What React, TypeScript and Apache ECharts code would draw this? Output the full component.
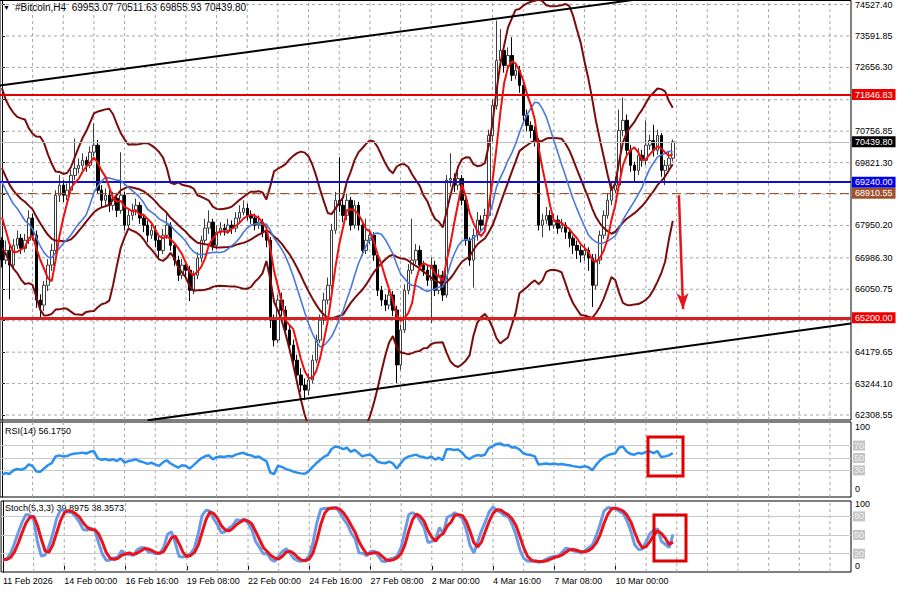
import React, { useEffect, useRef } from 'react';
import * as echarts from 'echarts';

// ---- hidden history before the first visible bar (only warms up the indicators) ----
const preCloses = [72270, 71670, 70780, 70190, 69590, 69150, 70480, 69890, 70190, 69440, 69740, 70040, 69590, 69890, 69210, 69150, 68850, 68550, 67510];
const preHighs = [72500, 72350, 71800, 70900, 70300, 69700, 70650, 70600, 70400, 70300, 69900, 70250, 70150, 70050, 69950, 69400, 69250, 68950, 68650];
const preLows = [71900, 71450, 70550, 69950, 69400, 68950, 69050, 69700, 69800, 69250, 69350, 69650, 69450, 69500, 69050, 68950, 68700, 68300, 67300];

// ---- visible H4 bars (11 Feb 08:00 .. 12 Mar 12:00) ----
const closes = [
  66920, 67210, 66770, 67360, 67570, 67270, 67510, 68170, 67660, 65730,
  65580, 66170, 66770, 67210, 68850, 69150, 68850, 69000, 69440, 69650,
  69740, 69890, 69740, 70130, 70340, 69000, 68700, 68850, 68550, 68760,
  68400, 68850, 67960, 68250, 68400, 68550, 68170, 67960, 67660, 67810,
  67510, 67210, 67660, 67960, 67360, 66920, 66470, 66770, 66620, 66020,
  66470, 66980, 67510, 67870, 68050, 67360, 67750, 67870, 67810, 67960,
  67870, 68170, 68340, 68460, 68250, 68170, 67960, 68050, 67750, 67510,
  65130, 64540, 65730, 65430, 64840, 64390, 63940, 63500, 63200, 63050,
  63350, 63940, 64540, 65130, 65730, 66170, 67810, 68700, 68550, 68250,
  68700, 67960, 68550, 67960, 67210, 67510, 67660, 67070, 66020, 65730,
  65580, 65880, 65430, 63800, 64840, 66020, 66620, 66920, 67210, 66770,
  66620, 66320, 66770, 66020, 66470, 65880, 69300, 69350, 69150, 69350,
  68700, 67510, 66920, 67660, 68110, 67960, 68250, 70630, 71520, 72860,
  73160, 72710, 73010, 72420, 72570, 72120, 71230, 70930, 70780, 70480,
  67960, 68110, 68250, 67960, 68110, 67870, 67960, 67750, 67570, 67360,
  67210, 67070, 67210, 66980, 66170, 66920, 67660, 68250, 68700, 69000,
  69150, 70780, 71080, 70190, 69740, 69590, 70040, 69890, 70340, 70480,
  70190, 70630, 69590, 69740, 69953.07, 70439.8,
];
const highs = [
  67600, 67500, 67350, 67550, 67800, 67700, 67700, 68400, 68300, 67800,
  65900, 66300, 66950, 67400, 69000, 69450, 69300, 69200, 69600, 70540,
  69950, 70100, 70000, 70300, 70990, 70500, 69150, 69050, 69000, 68950,
  68900, 70130, 68950, 68450, 68600, 68750, 68650, 68300, 68100, 68000,
  67950, 67650, 67850, 68300, 68050, 67450, 67050, 66950, 66900, 66750,
  66600, 67150, 67650, 68150, 68400, 68150, 67950, 68050, 68000, 68150,
  68100, 68350, 68550, 68700, 68600, 68400, 68300, 68250, 68150, 67900,
  67600, 65300, 65900, 65950, 65550, 65000, 64550, 64100, 63700, 63400,
  63550, 64100, 64700, 65300, 65950, 66400, 68000, 68950, 69980, 68750,
  68900, 68800, 68700, 68650, 68050, 68150, 67850, 67750, 67150, 66150,
  65900, 66050, 66000, 65550, 65000, 66200, 66800, 68150, 67400, 67350,
  66900, 66750, 67000, 66900, 66650, 66600, 69450, 70100, 69500, 69550,
  69450, 68800, 67600, 67850, 68350, 68250, 68450, 70800, 71700, 74050,
  73800, 73300, 73250, 73550, 72800, 72700, 72250, 71400, 71050, 70900,
  70550, 68300, 68500, 68400, 68300, 68250, 68150, 68050, 67850, 67650,
  67500, 67350, 67400, 67300, 67100, 67100, 67800, 68400, 68900, 69250,
  69400, 71400, 71760, 71250, 70350, 69850, 70250, 70200, 71080, 70650,
  70950, 70800, 70700, 69900, 70150, 70511.63,
];
const lows = [
  66700, 66800, 65750, 66650, 67250, 67100, 67150, 67400, 67500, 65500,
  65150, 65400, 66000, 66600, 67100, 68650, 68650, 68700, 68900, 69300,
  69500, 69600, 69550, 69650, 70000, 68900, 68500, 68550, 68350, 68400,
  68200, 68300, 67800, 67850, 68100, 68250, 68000, 67750, 67450, 67550,
  67300, 66950, 67100, 67550, 67200, 66750, 66300, 66350, 66400, 65700,
  65900, 66350, 66850, 67400, 67700, 67200, 67250, 67650, 67650, 67700,
  67700, 67750, 68050, 68250, 68100, 68000, 67800, 67850, 67600, 67300,
  64900, 64350, 64450, 65250, 64650, 64200, 63750, 63300, 63000, 62750,
  62900, 63250, 63850, 64450, 65000, 65600, 66050, 67700, 68350, 68050,
  68100, 67800, 67850, 67800, 67050, 67100, 67400, 66900, 65850, 65550,
  65400, 65450, 65250, 63260, 63650, 64750, 65900, 66500, 66800, 66600,
  66450, 66150, 65050, 65850, 65900, 65700, 65800, 69100, 68950, 69000,
  68550, 67350, 66750, 66100, 67500, 67750, 67800, 68150, 70450, 71400,
  72700, 72500, 72550, 72250, 72300, 71900, 71050, 70750, 70550, 70300,
  67800, 67600, 68000, 67800, 67850, 67700, 67750, 67550, 67300, 67100,
  66950, 66850, 66900, 66600, 65520, 66050, 66800, 67550, 68150, 68550,
  68900, 69050, 70600, 70000, 69550, 69250, 69450, 69700, 69750, 70200,
  70000, 70050, 69400, 69150, 69600, 69855.93,
];

// ---- axis ticks / labels ----
const priceTicks = [62308.55, 63244.1, 64179.65, 65115.2, 66050.75, 66986.3, 67950.2, 68885.75, 69821.3, 70756.85, 71692.4, 72656.3, 73591.85, 74527.4];
// tick labels that are not covered by an object's price box
const priceTickLabels = [62308.55, 63244.1, 64179.65, 66050.75, 66986.3, 67950.2, 69821.3, 70756.85, 72656.3, 73591.85, 74527.4];
const xTickLabels = ['11 Feb 2026', '14 Feb 00:00', '16 Feb 16:00', '19 Feb 08:00', '22 Feb 00:00', '24 Feb 16:00', '27 Feb 08:00', '2 Mar 00:00', '4 Mar 16:00', '7 Mar 08:00', '10 Mar 00:00'];

// ---- drawn objects ----
const resistanceLevel = 71846.83;
const pivotLevel = 69240.0;
const dashedLevel = 68910.55;
const supportLevel = 65200.0;
const upperChannel = [[-0.5, 72113], [165, 74667]];
const lowerChannel = [[38, 62150], [221.5, 65034]];
const arrowFrom = [176.6, 68850];
const arrowTo = [177.7, 65460];
const rsiLevels = [70, 50, 30];
const stochLevels = [80, 50, 20];

const SLOTS = 222;
const TICK_STEP = 16;
const GRID_STEP = 8;

const PRICE_MIN = 62160;
const PRICE_MAX = 74646;
const RSI_MIN = -13;
const RSI_MAX = 108;
const ST_MIN = -9.5;
const ST_MAX = 104.8;

function buildOption() {
  const P = preCloses.length;
  const N = closes.length;
  const allC = [...preCloses, ...closes];
  const allH = [...preHighs, ...highs];
  const allL = [...preLows, ...lows];
  const opens = closes.map((_, i) => (i === 0 ? preCloses[P - 1] : closes[i - 1]));

  const sma = (a: number[], n: number, k: number) => {
    let s = 0;
    for (let m = k - n + 1; m <= k; m++) s += a[m];
    return s / n;
  };
  const ma5: number[] = [];
  const ma14: number[] = [];
  const bbMid: number[] = [];
  const bbUp: number[] = [];
  const bbLo: number[] = [];
  for (let j = 0; j < N; j++) {
    const k = j + P;
    ma5.push(sma(allC, 5, k));
    ma14.push(sma(allC, 14, k));
    const m = sma(allC, 20, k);
    let v = 0;
    for (let q = k - 19; q <= k; q++) v += (allC[q] - m) ** 2;
    const sd = Math.sqrt(v / 20);
    bbMid.push(m);
    bbUp.push(m + 2 * sd);
    bbLo.push(m - 2 * sd);
  }

  // RSI(14), Wilder
  const rsiAll: number[] = [];
  let ag = 0;
  let al = 0;
  for (let k = 1; k < allC.length; k++) {
    const d = allC[k] - allC[k - 1];
    const g = Math.max(d, 0);
    const l = Math.max(-d, 0);
    if (k <= 14) {
      ag += g / 14;
      al += l / 14;
    } else {
      ag = (ag * 13 + g) / 14;
      al = (al * 13 + l) / 14;
    }
    rsiAll[k] = al === 0 ? 100 : 100 - 100 / (1 + ag / al);
  }
  const rsi = closes.map((_, j) => rsiAll[j + P]);

  // Stochastic(5,3,3)
  const hh: number[] = [];
  const ll: number[] = [];
  for (let k = 4; k < allC.length; k++) {
    hh[k] = Math.max(...allH.slice(k - 4, k + 1));
    ll[k] = Math.min(...allL.slice(k - 4, k + 1));
  }
  const kAll: number[] = [];
  for (let k = 6; k < allC.length; k++) {
    let num = 0;
    let den = 0;
    for (let m = k - 2; m <= k; m++) {
      num += allC[m] - ll[m];
      den += hh[m] - ll[m];
    }
    kAll[k] = den ? (100 * num) / den : 100;
  }
  const stK = closes.map((_, j) => kAll[j + P]);
  const stD = closes.map((_, j) => (kAll[j + P] + kAll[j + P - 1] + kAll[j + P - 2]) / 3);

  const cats = Array.from({ length: SLOTS }, (_, i) => String(i));
  const gridXs: number[] = [];
  for (let i = GRID_STEP; i < SLOTS; i += GRID_STEP) gridXs.push(i);

  // grid segments (broken with null points)
  const xLo = -0.5;
  const xHi = SLOTS - 0.5;
  const vSegs = (lo: number, hi: number) => {
    const out: any[] = [];
    gridXs.forEach((x) => {
      out.push([x, lo], [x, hi], [x, null]);
    });
    return out;
  };
  const hSegs = (vals: number[]) => {
    const out: any[] = [];
    vals.forEach((v) => {
      out.push([xLo, v], [xHi, v], [xHi, null]);
    });
    return out;
  };
  const gridLine = (xi: number, yi: number, data: any[]) => ({
    type: 'line',
    xAxisIndex: xi,
    yAxisIndex: yi,
    data,
    symbol: 'none',
    silent: true,
    connectNulls: false,
    z: 1,
    lineStyle: { color: '#a6a6a6', width: 1, type: [3, 3] },
  });

  const levelLabel = (text: string, bg: string, fg = '#ffffff') => ({
    show: true,
    position: 'end',
    formatter: text,
    backgroundColor: bg,
    color: fg,
    fontSize: 9,
    padding: [1, 3, 1, 3],
    distance: 1,
  });
  const grayLabel = (text: string) => ({
    show: true,
    position: 'end',
    formatter: text,
    backgroundColor: '#c4c4c4',
    color: '#f2f2f2',
    fontSize: 9,
    padding: [1, 1, 0, 1],
    distance: 2,
  });

  const tickFn = (index: number) => index % TICK_STEP === 0 && index / TICK_STEP < xTickLabels.length;
  const last = N - 1;
  const fmt = (v: number) => v.toFixed(2);
  const valueX = (gi: number) => ({ type: 'value', gridIndex: gi, min: xLo, max: xHi, show: false });

  return {
    animation: false,
    backgroundColor: '#ffffff',
    textStyle: { fontFamily: 'Liberation Sans, Arial, sans-serif' },
    grid: [
      { left: 0, top: 0, width: 851, height: 420, show: true, borderColor: '#000', borderWidth: 1 },
      { left: 0, top: 422, width: 851, height: 75, show: true, borderColor: '#000', borderWidth: 1 },
      { left: 0, top: 501, width: 851, height: 71, show: true, borderColor: '#000', borderWidth: 1 },
    ],
    xAxis: [
      { type: 'category', gridIndex: 0, data: cats, show: false },
      valueX(0),
      { type: 'category', gridIndex: 1, data: cats, show: false },
      {
        type: 'category',
        gridIndex: 2,
        data: cats,
        axisLine: { show: false },
        axisTick: { show: true, interval: tickFn, alignWithLabel: true, length: 4, lineStyle: { color: '#000' } },
        axisLabel: {
          interval: tickFn,
          formatter: (_v: string, i: number) => xTickLabels[i / TICK_STEP],
          align: 'left',
          fontSize: 9,
          color: '#000',
          margin: 4,
        },
        splitLine: { show: false },
      },
      valueX(1),
      valueX(2),
    ],
    yAxis: [
      {
        type: 'value',
        gridIndex: 0,
        position: 'right',
        min: PRICE_MIN,
        max: PRICE_MAX,
        axisLine: { show: true, lineStyle: { color: '#000' } },
        axisTick: { show: true, customValues: priceTicks, length: 3, lineStyle: { color: '#000' } },
        axisLabel: { customValues: priceTickLabels, formatter: (v: number) => v.toFixed(2), fontSize: 9, color: '#000', margin: 4 },
        splitLine: { show: false },
      },
      {
        type: 'value',
        gridIndex: 1,
        position: 'right',
        min: RSI_MIN,
        max: RSI_MAX,
        axisLine: { show: true, lineStyle: { color: '#000' } },
        axisTick: { show: false },
        axisLabel: { customValues: [0, 100], fontSize: 9, color: '#000', margin: 4 },
        splitLine: { show: false },
      },
      {
        type: 'value',
        gridIndex: 2,
        position: 'right',
        min: ST_MIN,
        max: ST_MAX,
        axisLine: { show: true, lineStyle: { color: '#000' } },
        axisTick: { show: false },
        axisLabel: { customValues: [0, 100], fontSize: 9, color: '#000', margin: 4 },
        splitLine: { show: false },
      },
    ],
    graphic: [
      { type: 'text', left: 3, top: 4, style: { text: '▼', fontSize: 7, fill: '#000' } },
      {
        type: 'text',
        left: 15,
        top: 2,
        style: {
          text: `#Bitcoin,H4  ${fmt(opens[last])} ${fmt(highs[last])} ${fmt(lows[last])} ${fmt(closes[last])}`,
          fontSize: 10,
          fill: '#000',
          fontFamily: 'Liberation Sans, Arial, sans-serif',
        },
      },
      { type: 'text', left: 5, top: 426, style: { text: 'RSI(14) 56.1750', fontSize: 9, fill: '#000', fontFamily: 'Liberation Sans, Arial, sans-serif' } },
      { type: 'text', left: 5, top: 503, style: { text: 'Stoch(5,3,3) 39.8975 38.3573', fontSize: 9, fill: '#000', fontFamily: 'Liberation Sans, Arial, sans-serif' } },
      { type: 'rect', shape: { x: 648, y: 437, width: 35, height: 39 }, style: { fill: 'none', stroke: '#e00000', lineWidth: 3 }, z: 100 },
      { type: 'rect', shape: { x: 654, y: 515, width: 32, height: 46 }, style: { fill: 'none', stroke: '#e00000', lineWidth: 3 }, z: 100 },
    ],
    series: [
      gridLine(1, 0, [...hSegs(priceTicks), ...vSegs(PRICE_MIN, PRICE_MAX)]),
      {
        type: 'line',
        xAxisIndex: 0,
        yAxisIndex: 0,
        data: [],
        z: 2,
        silent: true,
        markLine: {
          silent: true,
          symbol: ['none', 'none'],
          animation: false,
          data: [
            { yAxis: closes[last], lineStyle: { color: '#bdbdbd', width: 1, type: 'solid' }, label: levelLabel(fmt(closes[last]), '#000000') },
          ],
        },
      },
      {
        type: 'candlestick',
        xAxisIndex: 0,
        yAxisIndex: 0,
        barWidth: 3,
        z: 3,
        data: closes.map((c, i) => [opens[i], c, lows[i], highs[i]]),
        itemStyle: { color: '#ffffff', color0: '#000000', borderColor: '#3c3c3c', borderColor0: '#000000', borderWidth: 1 },
      },
      { type: 'line', xAxisIndex: 0, yAxisIndex: 0, data: bbUp, symbol: 'none', z: 4, lineStyle: { color: '#7a0c0c', width: 2 } },
      { type: 'line', xAxisIndex: 0, yAxisIndex: 0, data: bbMid, symbol: 'none', z: 4, lineStyle: { color: '#7a0c0c', width: 2 } },
      { type: 'line', xAxisIndex: 0, yAxisIndex: 0, data: bbLo, symbol: 'none', z: 4, lineStyle: { color: '#7a0c0c', width: 2 } },
      { type: 'line', xAxisIndex: 0, yAxisIndex: 0, data: ma14, symbol: 'none', z: 5, lineStyle: { color: '#4a78dc', width: 1.6 } },
      { type: 'line', xAxisIndex: 0, yAxisIndex: 0, data: ma5, symbol: 'none', z: 6, lineStyle: { color: '#f01010', width: 2 } },
      { type: 'line', xAxisIndex: 1, yAxisIndex: 0, data: upperChannel, symbol: 'none', z: 7, lineStyle: { color: '#000', width: 2 } },
      {
        type: 'line',
        xAxisIndex: 1,
        yAxisIndex: 0,
        data: lowerChannel,
        symbol: 'none',
        z: 7,
        lineStyle: { color: '#000', width: 2 },
        markLine: {
          silent: true,
          animation: false,
          symbol: ['none', 'arrow'],
          symbolSize: [9, 16],
          label: { show: false },
          lineStyle: { color: '#e8141c', width: 2.5, type: 'solid' },
          data: [[{ coord: arrowFrom }, { coord: arrowTo }]],
        },
      },
      {
        type: 'line',
        xAxisIndex: 0,
        yAxisIndex: 0,
        data: [],
        z: 8,
        silent: true,
        markLine: {
          silent: true,
          symbol: ['none', 'none'],
          animation: false,
          data: [
            { yAxis: resistanceLevel, lineStyle: { color: '#e00000', width: 2, type: 'solid' }, label: levelLabel(fmt(resistanceLevel), '#ee0000') },
            { yAxis: pivotLevel, lineStyle: { color: '#1010c8', width: 2, type: 'solid' }, label: levelLabel(fmt(pivotLevel), '#0000e6') },
            { yAxis: dashedLevel, lineStyle: { color: '#a0522d', width: 1, type: [9, 5] }, label: levelLabel(fmt(dashedLevel), '#a0522d') },
            { yAxis: supportLevel, lineStyle: { color: '#d42222', width: 3, type: 'solid' }, label: levelLabel(fmt(supportLevel), '#ee0000') },
          ],
        },
      },
      // RSI panel
      gridLine(4, 1, vSegs(RSI_MIN, RSI_MAX)),
      {
        type: 'line',
        xAxisIndex: 2,
        yAxisIndex: 1,
        data: [],
        z: 2,
        silent: true,
        markLine: {
          silent: true,
          symbol: ['none', 'none'],
          animation: false,
          data: rsiLevels.map((v) => ({ yAxis: v, lineStyle: { color: '#c8c8c8', width: 1, type: 'solid' }, label: grayLabel(String(v)) })),
        },
      },
      { type: 'line', xAxisIndex: 2, yAxisIndex: 1, data: rsi, symbol: 'none', z: 5, lineStyle: { color: '#2b8ff0', width: 2.5 } },
      // Stochastic panel
      gridLine(5, 2, vSegs(ST_MIN, ST_MAX)),
      {
        type: 'line',
        xAxisIndex: 3,
        yAxisIndex: 2,
        data: [],
        z: 2,
        silent: true,
        markLine: {
          silent: true,
          symbol: ['none', 'none'],
          animation: false,
          data: stochLevels.map((v) => ({ yAxis: v, lineStyle: { color: '#c8c8c8', width: 1, type: 'solid' }, label: grayLabel(String(v)) })),
        },
      },
      { type: 'line', xAxisIndex: 3, yAxisIndex: 2, data: stK, symbol: 'none', z: 5, lineStyle: { color: '#6c9ae6', width: 3 } },
      { type: 'line', xAxisIndex: 3, yAxisIndex: 2, data: stD, symbol: 'none', z: 6, lineStyle: { color: '#e8141c', width: 3 } },
    ],
  };
}

export default function App() {
  const ref = useRef<HTMLDivElement>(null);
  useEffect(() => {
    document.body.style.margin = '0';
    if (!ref.current) return;
    const chart = echarts.init(ref.current, undefined, { renderer: 'svg' });
    chart.setOption(buildOption() as any);
    return () => chart.dispose();
  }, []);
  return <div ref={ref} style={{ position: 'fixed', left: 0, top: 0, width: 900, height: 594, background: '#fff' }} />;
}
